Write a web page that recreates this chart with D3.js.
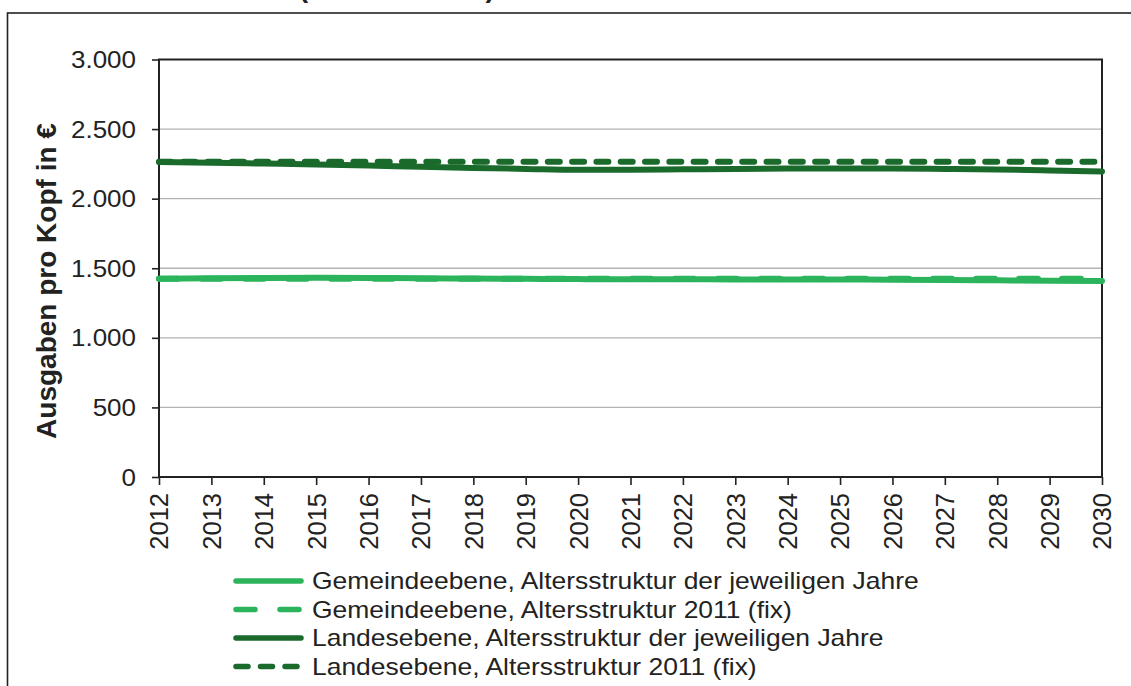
<!DOCTYPE html>
<html><head><meta charset="utf-8">
<script src="https://cdn.jsdelivr.net/npm/d3@7/dist/d3.min.js"></script>
<style>body{margin:0;background:#fff;}svg{display:block;font-family:"Liberation Sans",Arial,sans-serif;}</style>
</head><body><svg id="c" width="1131" height="686"></svg>
<script>
const years = [2012,2013,2014,2015,2016,2017,2018,2019,2020,2021,2022,2023,2024,2025,2026,2027,2028,2029,2030];
const gemeindeJeweilig = [1425,1428,1430,1431,1430,1428,1426,1424,1422,1421,1421,1420,1420,1419,1418,1416,1413,1410,1408];
const gemeindeFix = [1425,1425,1425,1425,1425,1425,1425,1425,1425,1425,1425,1425,1425,1425,1425,1425,1425,1425,1425];
const landesJeweilig = [2263,2258,2252,2246,2238,2229,2221,2214,2208,2208,2211,2214,2216,2217,2217,2214,2210,2203,2195];
const landesFix = [2266,2266,2266,2266,2266,2266,2266,2266,2266,2266,2266,2266,2266,2266,2266,2266,2266,2266,2266];
const yTicks = [0,500,1000,1500,2000,2500,3000];
const seriesNames = ["Gemeindeebene, Altersstruktur der jeweiligen Jahre","Gemeindeebene, Altersstruktur 2011 (fix)","Landesebene, Altersstruktur der jeweiligen Jahre","Landesebene, Altersstruktur 2011 (fix)"];
const yTitle = "Ausgaben pro Kopf in €";
const titleText = "(2012 bis 2030)";

const light = "#2bb45c", dark = "#1a6a2c";
const series = [
  {name: seriesNames[2], values: landesJeweilig, color: dark, dash: null},
  {name: seriesNames[3], values: landesFix, color: dark, dash: "12,12.3"},
  {name: seriesNames[0], values: gemeindeJeweilig, color: light, dash: null},
  {name: seriesNames[1], values: gemeindeFix, color: light, dash: "19,24"}
];
const legendOrder = [
  {name: seriesNames[0], color: light, dash: null},
  {name: seriesNames[1], color: light, dash: "19,25"},
  {name: seriesNames[2], color: dark, dash: null},
  {name: seriesNames[3], color: dark, dash: "12,12.5"}
];

const svg = d3.select("#c");
const L = 159, R = 1102, T = 59.5, B = 477;
const x = d3.scaleLinear().domain([2012,2030]).range([L,R]);
const y = d3.scaleLinear().domain([0,3000]).range([B,T]);

// outer frame
svg.append("rect").attr("x",7.5).attr("y",13).attr("width",1140).attr("height",700)
  .attr("fill","none").attr("stroke","#222").attr("stroke-width",1.6);

// cut title
svg.append("text").attr("transform","translate(299,-2.5) scale(1.1,1)").attr("font-size",25).attr("font-weight","bold")
  .attr("fill","#222").text(titleText);

// grid
svg.append("g").selectAll("line").data(yTicks.filter(d=>d>0 && d<3000)).join("line")
  .attr("x1",L).attr("x2",R).attr("y1",d=>y(d)).attr("y2",d=>y(d))
  .attr("stroke","#b3b3b3").attr("stroke-width",1.3);

// axes
const ya = svg.append("g").attr("transform",`translate(${L},0)`)
  .call(d3.axisLeft(y).tickValues(yTicks).tickSize(7)
    .tickFormat(d=>d3.format(",")(d).replace(/,/g,".")));
const xa = svg.append("g").attr("transform",`translate(0,${B})`)
  .call(d3.axisBottom(x).tickValues(years).tickSize(8).tickFormat(d3.format("d")));
[ya,xa].forEach(a=>{
  a.select(".domain").remove();
  a.selectAll(".tick line").attr("stroke","#222").attr("stroke-width",1.6);
  a.selectAll("text").attr("fill","#222").attr("font-family","Liberation Sans, Arial, sans-serif");
});
ya.selectAll("text").attr("font-size",23).attr("x",0).attr("dy","0.35em")
  .attr("transform","translate(-23,0) scale(1.13,1)");
xa.selectAll("text").attr("font-size",25.5).attr("transform","rotate(-90)").attr("text-anchor","end")
  .attr("x",-16).attr("y",0).attr("dy","0.35em");

// plot frame
svg.append("rect").attr("x",L).attr("y",T).attr("width",R-L).attr("height",B-T)
  .attr("fill","none").attr("stroke","#222").attr("stroke-width",2);

// lines
const line = d3.line().x((d,i)=>x(years[i])).y(d=>y(d)).curve(d3.curveMonotoneX);
series.forEach(s=>{
  svg.append("path").attr("d",line(s.values)).attr("fill","none")
    .attr("stroke",s.color).attr("stroke-width",6).attr("stroke-linecap","round")
    .attr("stroke-dasharray",s.dash);
});

// y title
svg.append("text").attr("transform",`translate(56,281) rotate(-90)`)
  .attr("text-anchor","middle").attr("font-size",28).attr("font-weight","bold")
  .attr("fill","#222").text(yTitle);

// legend
const lg = svg.append("g");
legendOrder.forEach((s,i)=>{
  const yy = 581 + i*28.5;
  lg.append("line").attr("x1",236).attr("x2",301).attr("y1",yy).attr("y2",yy)
    .attr("stroke",s.color).attr("stroke-width",5.5).attr("stroke-linecap","round")
    .attr("stroke-dasharray",s.dash);
  lg.append("text").attr("transform",`translate(312,${yy}) scale(1.15,1)`).attr("dy","0.36em").attr("font-size",23)
    .attr("fill","#222").text(s.name);
});
</script></body></html>
